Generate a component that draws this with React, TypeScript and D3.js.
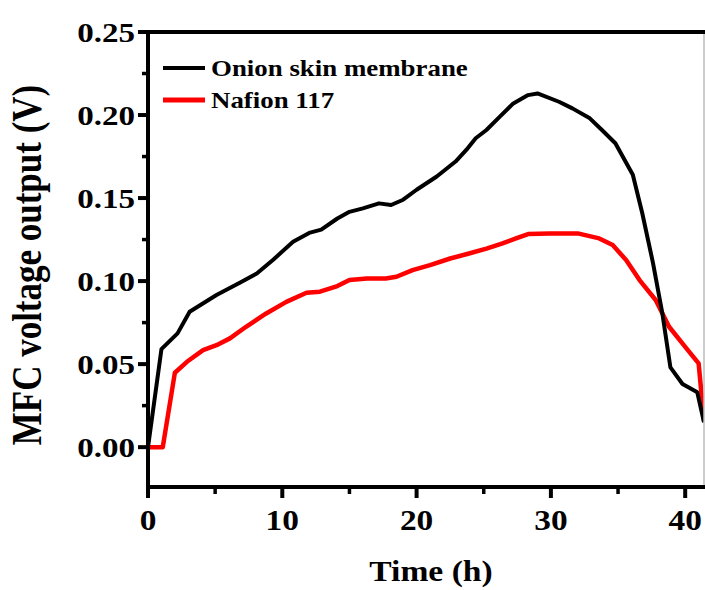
import React, { useEffect, useRef } from 'react';
import * as d3 from 'd3';

// values
const onionTime = [0, 1.0, 2.2, 3.1, 5.1, 6.8, 8.1, 9.3, 10.8, 12.0, 12.9, 14.1, 15.0, 16.0, 17.2, 18.1, 19.0, 20.0, 21.5, 22.9, 23.7, 24.4, 25.2, 26.2, 27.2, 28.3, 29.0, 30.6, 31.6, 32.9, 33.8, 34.8, 36.1, 36.8, 37.6, 38.3, 38.9, 39.8, 40.9, 41.4];
const onionVoltage = [0, 0.059, 0.0685, 0.0815, 0.0916, 0.0988, 0.1046, 0.1127, 0.1237, 0.129, 0.131, 0.1377, 0.1417, 0.1438, 0.1468, 0.1458, 0.149, 0.155, 0.163, 0.172, 0.179, 0.186, 0.191, 0.199, 0.207, 0.212, 0.213, 0.208, 0.204, 0.198, 0.191, 0.183, 0.164, 0.141, 0.111, 0.0805, 0.048, 0.038, 0.033, 0.015];
const nafionTime = [0, 1.1, 2.0, 2.9, 4.1, 5.1, 6.1, 7.3, 8.8, 10.3, 11.8, 12.8, 14.1, 15.0, 16.3, 17.7, 18.5, 19.7, 21.0, 22.5, 23.9, 25.2, 26.4, 27.4, 28.3, 29.9, 32.0, 33.6, 34.6, 35.6, 36.6, 37.8, 38.8, 40.0, 41.0, 41.4];
const nafionVoltage = [0, 0, 0.0448, 0.0514, 0.0584, 0.0614, 0.0655, 0.0725, 0.0805, 0.0875, 0.093, 0.0936, 0.097, 0.1006, 0.1016, 0.1016, 0.1026, 0.1066, 0.1096, 0.1136, 0.1166, 0.1196, 0.1227, 0.1257, 0.1283, 0.1287, 0.1287, 0.1257, 0.1217, 0.1127, 0.1006, 0.0886, 0.0725, 0.0604, 0.0504, 0.016];

const seriesNames = ['Onion skin membrane', 'Nafion 117'];
const seriesColors = ['#000000', '#ff0000'];

const xTicks = [0, 10, 20, 30, 40];
const xMinorTicks = [5, 15, 25, 35];
const yTicks = [0, 0.05, 0.1, 0.15, 0.2, 0.25];
const yMinorTicks = [0.025, 0.075, 0.125, 0.175, 0.225];

const W = 705;
const H = 590;
const FONT = '"Liberation Serif", "Times New Roman", serif';

export default function App() {
  const ref = useRef<SVGSVGElement>(null);

  useEffect(() => {
    const svg = d3.select(ref.current);
    svg.selectAll('*').remove();

    const x = d3.scaleLinear().domain([0, 41.4]).range([148, 704]);
    const y = d3.scaleLinear().domain([-0.024, 0.25]).range([487, 32]);

    svg.append('rect').attr('width', W).attr('height', H).attr('fill', '#fff');

    svg.append('defs').append('clipPath').attr('id', 'plotclip')
      .append('rect')
      .attr('x', x(0)).attr('y', y(0.25))
      .attr('width', x(41.4) - x(0)).attr('height', y(-0.024) - y(0.25));

    // lines
    const line = d3.line<[number, number]>()
      .x(d => x(d[0]))
      .y(d => y(d[1]));

    const series: [number, number][][] = [
      onionTime.map((t, i) => [t, onionVoltage[i]]),
      nafionTime.map((t, i) => [t, nafionVoltage[i]]),
    ];

    const plot = svg.append('g').attr('clip-path', 'url(#plotclip)');
    // red under black
    [1, 0].forEach(i => {
      plot.append('path')
        .attr('d', line(series[i]))
        .attr('fill', 'none')
        .attr('stroke', seriesColors[i])
        .attr('stroke-width', i === 0 ? 4 : 4.5)
        .attr('stroke-linejoin', 'round');
    });

    // frame
    svg.append('line').attr('x1', x(41.4)).attr('x2', x(41.4)).attr('y1', y(0.25)).attr('y2', y(-0.024))
      .attr('stroke', '#bbb').attr('stroke-width', 1.5);
    svg.append('line').attr('x1', x(0) - 2).attr('x2', W).attr('y1', y(0.25)).attr('y2', y(0.25))
      .attr('stroke', '#000').attr('stroke-width', 4);
    svg.append('line').attr('x1', x(0)).attr('x2', x(0)).attr('y1', y(0.25) - 2).attr('y2', y(-0.024) + 2)
      .attr('stroke', '#000').attr('stroke-width', 4);
    svg.append('line').attr('x1', x(0) - 2).attr('x2', W).attr('y1', y(-0.024)).attr('y2', y(-0.024))
      .attr('stroke', '#000').attr('stroke-width', 4);

    // y ticks
    svg.selectAll('.ytick').data(yTicks).enter().append('line')
      .attr('x1', x(0) - 10).attr('x2', x(0))
      .attr('y1', d => y(d)).attr('y2', d => y(d))
      .attr('stroke', '#000').attr('stroke-width', 4);
    svg.selectAll('.yminor').data(yMinorTicks).enter().append('line')
      .attr('x1', x(0) - 6).attr('x2', x(0))
      .attr('y1', d => y(d)).attr('y2', d => y(d))
      .attr('stroke', '#000').attr('stroke-width', 3.5);
    svg.selectAll('.ylab').data(yTicks).enter().append('text')
      .attr('transform', d => `translate(135,${y(d) + 10}) scale(1.18,1)`)
      .attr('text-anchor', 'end')
      .style('font-family', FONT).style('font-weight', 'bold').style('font-size', '28px')
      .text(d => d3.format('.2f')(d));

    // x ticks
    svg.selectAll('.xtick').data(xTicks).enter().append('line')
      .attr('x1', d => x(d)).attr('x2', d => x(d))
      .attr('y1', y(-0.024)).attr('y2', y(-0.024) + 11)
      .attr('stroke', '#000').attr('stroke-width', 4);
    svg.selectAll('.xminor').data(xMinorTicks).enter().append('line')
      .attr('x1', d => x(d)).attr('x2', d => x(d))
      .attr('y1', y(-0.024)).attr('y2', y(-0.024) + 7)
      .attr('stroke', '#000').attr('stroke-width', 3.5);
    svg.selectAll('.xlab').data(xTicks).enter().append('text')
      .attr('transform', d => `translate(${x(d)},530) scale(1.15,1)`)
      .attr('text-anchor', 'middle')
      .style('font-family', FONT).style('font-weight', 'bold').style('font-size', '29px')
      .text(d => d);

    // axis titles
    svg.append('text')
      .attr('transform', 'translate(431,581) scale(1.12,1)')
      .attr('text-anchor', 'middle')
      .style('font-family', FONT).style('font-weight', 'bold').style('font-size', '30px')
      .text('Time (h)');
    svg.append('text')
      .attr('transform', 'translate(41,265) rotate(-90) scale(1,1.2)')
      .attr('text-anchor', 'middle')
      .style('font-family', FONT).style('font-weight', 'bold').style('font-size', '35px')
      .text('MFC voltage output (V)');

    // legend
    const legend = svg.append('g');
    seriesNames.forEach((name, i) => {
      const ly = 68 + i * 32;
      legend.append('line')
        .attr('x1', 163).attr('x2', 205).attr('y1', ly).attr('y2', ly)
        .attr('stroke', seriesColors[i]).attr('stroke-width', i === 0 ? 4 : 5);
      legend.append('text')
        .attr('transform', `translate(211,${ly + 8}) scale(1.12,1)`)
        .style('font-family', FONT).style('font-weight', 'bold').style('font-size', '24px')
        .text(name);
    });
  }, []);

  return (
    <svg ref={ref} width={W} height={H} style={{ position: 'absolute', left: 0, top: 0 }} />
  );
}
